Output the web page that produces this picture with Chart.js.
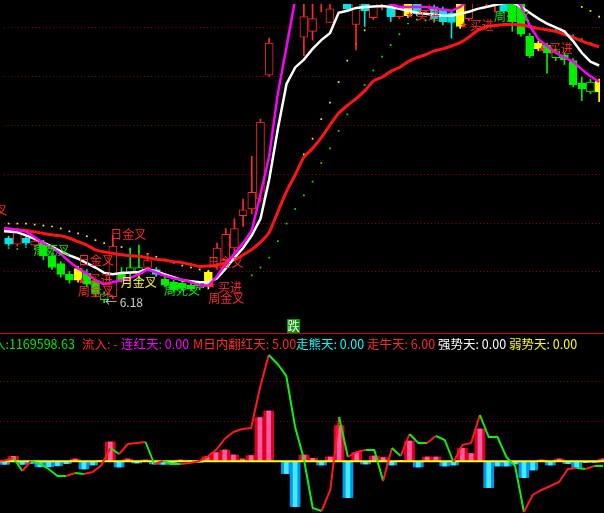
<!DOCTYPE html>
<html>
<head>
<meta charset="utf-8">
<script src="https://cdn.jsdelivr.net/npm/chart.js@4.4.0/dist/chart.umd.min.js"></script>
<style>
  html, body { margin: 0; padding: 0; background: #000; }
  #wrap { position: relative; width: 604px; height: 513px; overflow: hidden; background: #000; font-family: "Noto Sans CJK SC", sans-serif; }
  #priceCanvas { position: absolute; left: 0; top: 0; }
  #flowCanvas { position: absolute; left: 0; top: 335px; }
  #sep { position: absolute; left: 0; top: 333px; width: 604px; height: 1px; background: #d00000; }
  #fall { position: absolute; left: 287px; top: 319px; width: 13px; height: 14px; background: #009a00; color: #fff; font-size: 12px; line-height: 14px; text-align: center; }
  .hdr { position: absolute; top: 336px; font-size: 12.5px; line-height: 16px; white-space: nowrap; }
</style>
</head>
<body>
<div id="wrap">
  <canvas id="priceCanvas" width="604" height="333"></canvas>
  <div id="sep"></div>
  <canvas id="flowCanvas" width="604" height="178"></canvas>
  <div id="fall">跌</div>
  <span class="hdr" style="left:-7px;color:#00e800">入:1169598.63</span>
  <span class="hdr" style="left:82px;color:#ff2828">流入: -</span>
  <span class="hdr" style="left:121px;color:#ff00ff">连红天: 0.00</span>
  <span class="hdr" style="left:193px;color:#ff2828">M日内翻红天: 5.00</span>
  <span class="hdr" style="left:296px;color:#00ffff">走熊天: 0.00</span>
  <span class="hdr" style="left:367px;color:#ff2828">走牛天: 6.00</span>
  <span class="hdr" style="left:438px;color:#ffffff">强势天: 0.00</span>
  <span class="hdr" style="left:509px;color:#ffff00">弱势天: 0.00</span>
</div>
<script>
// candle kind: r = up (hollow red), g = down (green), gh = hollow green, c = cyan, y = yellow
const candleType = ['c','r','c','r','g','g','g','g','y','g','g','gh','r','g','gh','gh','r','c','g','g','g','g','gh','y','r','r','r','r','r','r','r','r','r','r','r','r','r','r','r','c','r','c','r','r','c','r','y','c','r','c','c','c','y','r','r','r','r','c','g','g','g','y','g','gh','g','g','g','gh','y'];
const openPrice = [7.50,7.38,7.50,7.36,7.40,7.14,6.98,6.76,6.64,6.78,6.62,6.36,6.30,6.78,6.90,6.90,6.90,6.86,6.66,6.60,6.58,6.54,6.54,6.52,6.90,7.06,7.30,7.96,8.10,8.30,10.84,12.70,12.60,12.40,11.62,11.74,12.40,11.92,12.40,12.40,11.88,12.36,12.02,12.34,12.22,12.04,12.06,12.34,12.16,12.24,12.20,12.12,11.84,12.00,12.34,12.36,12.36,12.36,12.30,12.40,11.64,11.38,11.46,11.34,11.26,11.14,10.68,10.70,10.50];
const closePrice = [7.38,7.66,7.40,7.44,7.14,6.90,6.76,6.64,6.88,6.56,6.36,6.24,7.34,6.64,6.78,6.78,7.04,6.76,6.54,6.44,6.48,6.46,6.48,6.80,7.30,7.58,7.70,8.08,8.44,9.88,11.50,13.50,13.30,13.10,12.04,12.00,12.70,12.20,12.70,12.20,12.40,12.16,12.40,12.50,12.04,12.36,12.34,12.10,12.36,12.00,11.94,11.92,12.34,12.34,12.50,12.50,12.50,12.16,11.94,11.68,11.24,11.50,11.30,11.20,11.16,10.64,10.56,10.50,10.72];
const highPrice = [7.54,7.70,7.54,7.50,7.46,7.20,7.02,6.82,6.92,6.86,6.66,6.40,7.56,6.90,7.30,7.36,7.18,6.90,6.74,6.64,6.62,6.58,6.58,6.84,7.40,7.70,7.90,8.30,9.18,9.94,11.60,13.70,13.50,13.20,12.40,12.40,12.80,12.40,12.80,12.46,12.46,12.40,12.46,12.54,12.30,12.40,12.38,12.38,12.40,12.28,12.24,12.16,12.38,12.38,12.54,12.54,12.54,12.40,12.34,12.44,11.70,11.54,11.50,11.38,11.30,11.18,10.80,10.76,10.76];
const lowPrice = [7.34,7.34,7.36,7.32,7.06,6.86,6.70,6.58,6.60,6.50,6.30,6.18,6.26,6.60,6.64,6.64,6.84,6.72,6.50,6.40,6.42,6.42,6.44,6.46,6.86,7.00,7.18,7.74,8.00,8.24,10.82,12.50,12.46,12.36,11.24,11.56,12.14,11.92,12.34,12.14,11.36,11.84,11.98,12.18,11.94,12.00,12.02,12.06,12.12,11.96,11.90,11.60,11.80,11.96,12.30,12.26,12.14,12.12,11.74,11.64,11.20,11.34,10.88,11.14,11.06,10.60,10.32,10.46,10.30];

// averages start one bar earlier (index -1), so the lines reach the left edge
const maWhite = [7.65,7.64,7.62,7.56,7.49,7.41,7.33,7.23,7.15,7.08,6.99,6.90,6.79,6.76,6.79,6.80,6.81,6.87,6.82,6.76,6.70,6.64,6.62,6.60,6.60,6.68,6.88,7.10,7.30,7.56,7.90,8.70,9.74,10.66,11.00,11.16,11.38,11.56,11.70,12.12,12.16,12.22,12.24,12.25,12.26,12.24,12.20,12.16,12.12,12.10,12.08,12.06,12.06,12.10,12.14,12.20,12.24,12.28,12.32,12.34,12.24,12.12,12.00,11.90,11.82,11.74,11.54,11.30,11.12,11.04];
const maMagenta = [7.71,7.70,7.67,7.64,7.52,7.40,7.30,7.18,7.02,6.88,6.78,6.64,6.56,6.60,6.64,6.69,6.76,6.86,6.80,6.73,6.68,6.65,6.60,6.53,6.53,6.72,6.98,7.18,7.40,7.66,8.40,9.18,10.46,11.42,12.40,12.70,13.10,13.30,13.40,13.30,13.10,12.90,12.70,12.50,12.36,12.30,12.24,12.24,12.24,12.24,12.22,12.18,12.16,12.24,12.40,12.60,12.70,12.70,12.60,12.46,12.26,11.86,11.58,11.44,11.30,11.20,11.12,10.96,10.82,10.70];
const maRed = [7.67,7.67,7.67,7.66,7.63,7.60,7.57,7.55,7.50,7.43,7.36,7.26,7.22,7.19,7.16,7.14,7.13,7.10,7.07,7.05,7.02,7.00,6.96,6.92,6.93,6.95,7.00,7.06,7.16,7.27,7.42,7.62,8.04,8.46,8.80,9.16,9.34,9.56,9.82,10.06,10.22,10.36,10.52,10.72,10.80,10.92,11.00,11.12,11.20,11.26,11.34,11.38,11.44,11.51,11.62,11.76,11.84,11.86,11.88,11.88,11.87,11.84,11.80,11.77,11.74,11.68,11.62,11.54,11.48,11.42];

const n = null;
const dotYellow = [7.80,7.80,7.80,7.78,7.76,7.74,7.70,7.64,7.60,7.54,7.46,7.40,7.36,7.32,7.26,7.22,7.18,7.12,7.06,7.00,6.94,6.90,6.86,6.82,n,n,n,n,n,n,n,n,n,n,9.22,9.54,9.94,10.28,10.70,11.14,11.48,11.76,12.04,n,n,n,n,n,n,n,n,n,n,n,n,n,n,n,n,n,n,n,n,n,n,n,12.24,12.16,12.04];
const dotGreen = [7.30,7.28,7.32,7.28,n,n,n,n,n,n,n,n,n,n,n,n,n,n,n,n,n,n,n,n,n,n,n,n,6.74,6.90,7.10,7.44,7.80,8.10,8.38,8.66,9.04,9.34,9.70,10.04,10.34,10.64,10.94,11.22,11.46,11.68,11.90,11.98,11.96,11.94,11.88,11.92,n,n,n,n,n,n,n,n,n,n,11.90,11.78,n,11.66,11.58,11.50,n];

const gridPrices = [6.81, 7.81, 8.81, 9.81, 10.81, 11.81];

// signal labels: text, colour, candle index of the left edge, price at the middle
const signalText  = ['日金叉','周死叉','日金叉','买进','周金叉','日金叉','← 6.18','月金叉','周死叉','日金叉','买进','周金叉','买进','买进','周死叉','买进'];
const signalColor = ['#ff2828','#00f000','#ff2828','#ff2828','#ff2828','#ff2828','#d0d0d0','#ffff00','#00f000','#ff2828','#ff2828','#ff2828','#ff2828','#ff2828','#00f000','#ff2828'];
const signalIdx   = [-4.3, 2.9, 8.0, 9.2, 8.0, 11.7, 11.1, 12.9, 17.9, 22.9, 24.1, 23.0, 46.9, 53.1, 55.9, 62.2];
const signalPrice = [8.06, 7.26, 7.04, 6.66, 6.40, 7.58, 6.18, 6.60, 6.42, 7.00, 6.50, 6.26, 12.06, 11.86, 12.04, 11.38];
const starIdx   = [8.4, 23.4, 46.2, 52.4, 61.4];
const starPrice = [6.62, 6.52, 12.06, 11.86, 11.36];

// money flow panel
const flowBars = [-3,5,-3,-2,-5.5,-5.5,-4.5,-2.3,2.3,-7.7,-3.7,1,19.3,-5.7,2.3,-1.7,1.3,-2.7,-3,-3,1.3,0.8,-1,4.7,8.7,11.3,6.3,2.3,5.7,43.7,50.3,0,-12.3,-45.3,6.3,3,-3.7,4.3,35.7,-36.3,9,-2.7,5.3,3.7,-3.7,1,20.3,-5.7,4.3,4.3,-4.7,-3.7,13,7.7,32.3,-26.3,-4.7,-4.7,-2.7,-16.3,-8.7,1.3,-3.7,2.3,-2.3,-6.3,-1.3,-1,2.3];
// flow line also starts at index -1
const flowLine = [0.3,0.8,3.3,-9.7,0.3,-2.7,-7.7,-14.7,-14.7,-11.7,-12.7,-10.7,-3.7,13.3,7.3,17.3,18.3,19.3,-2.7,0.3,-2.7,-2.7,-1.7,-0.2,4.3,11.3,22.3,29.3,32.3,33.3,73.3,106.3,97.3,85.3,34.3,2.3,-46.7,-49.7,-28.7,44.3,4.3,9.3,11.3,11.3,-19.7,13.3,5.3,27.3,18.3,18.3,25.3,21.3,-0.7,16.3,18.3,46.3,24.3,24.3,4.3,-4.7,-50.7,-33.7,-28.7,-24.7,-20.7,-7.7,-6.7,-7.7,-4.7,-4.7];
const flowGrid = [40, 80];

const xMin = -0.534, xMax = 68.1;
const candleColors = { r: '#ff2828', g: '#00f000', gh: '#00f000', c: '#00e4e4', y: '#ffff00' };
const gridRed = '#a00000';

function toPoints(values, start = 0) {
  return values.map((v, i) => ({ x: i + start, y: v }));
}

const signalPlugin = {
  id: 'signals',
  afterDatasetsDraw(chart) {
    const { ctx, scales: { x, y } } = chart;
    ctx.save();
    ctx.textBaseline = 'middle';
    ctx.font = '12px "Noto Sans CJK SC"';
    signalText.forEach((t, k) => {
      ctx.fillStyle = signalColor[k];
      ctx.fillText(t, x.getPixelForValue(signalIdx[k]), y.getPixelForValue(signalPrice[k]));
    });
    ctx.font = '9px "DejaVu Sans"';
    ctx.textAlign = 'center';
    ctx.fillStyle = '#ff2828';
    starIdx.forEach((s, k) => {
      ctx.fillText('★', x.getPixelForValue(s), y.getPixelForValue(starPrice[k]));
    });
    ctx.restore();
  }
};

const hiddenX = { type: 'linear', min: xMin, max: xMax, offset: false, display: false };

new Chart(document.getElementById('priceCanvas'), {
  type: 'bar',
  data: {
    datasets: [
      {
        type: 'line', data: toPoints(maMagenta, -1), borderColor: '#ff00ff', borderWidth: 2.5,
        pointRadius: 0, tension: 0, order: 0
      },
      {
        type: 'line', data: toPoints(maWhite, -1), borderColor: '#ffffff', borderWidth: 2.5,
        pointRadius: 0, tension: 0, order: 1
      },
      {
        type: 'line', data: toPoints(maRed, -1), borderColor: '#ff1414', borderWidth: 3,
        pointRadius: 0, tension: 0.2, order: 2
      },
      {
        data: candleType.map((t, i) => ({ x: i, y: [openPrice[i], closePrice[i]] })),
        backgroundColor: candleType.map(t => (t === 'r' || t === 'gh') ? '#000000' : candleColors[t]),
        borderColor: candleType.map(t => candleColors[t]),
        borderWidth: 1, borderSkipped: false, barThickness: 8, grouped: false, order: 3
      },
      {
        data: candleType.map((t, i) => ({ x: i, y: [lowPrice[i], highPrice[i]] })),
        backgroundColor: candleType.map(t => candleColors[t]),
        borderWidth: 0, barThickness: 1, grouped: false, order: 4
      },
      {
        type: 'line', data: toPoints(dotYellow), showLine: false, pointStyle: 'rect',
        pointRadius: 1.2, pointBackgroundColor: '#ffff00', pointBorderWidth: 0, order: 5
      },
      {
        type: 'line', data: toPoints(dotGreen), showLine: false, pointStyle: 'rect',
        pointRadius: 1.2, pointBackgroundColor: '#00f000', pointBorderWidth: 0, order: 6
      }
    ]
  },
  options: {
    responsive: false,
    animation: false,
    layout: { padding: 0 },
    plugins: { legend: { display: false }, tooltip: { enabled: false } },
    scales: {
      x: hiddenX,
      y: {
        min: 5.64, max: 12.30,
        afterBuildTicks: (scale) => { scale.ticks = gridPrices.map(v => ({ value: v })); },
        afterFit: (scale) => { scale.width = 0; },
        ticks: { display: false },
        grid: { color: gridRed, drawTicks: false, lineWidth: 1 },
        border: { display: false, dash: [1, 2.5] }
      }
    }
  },
  plugins: [signalPlugin]
});

new Chart(document.getElementById('flowCanvas'), {
  type: 'bar',
  data: {
    datasets: [
      {
        type: 'line', data: toPoints(flowLine, -1), borderWidth: 2, pointRadius: 0, tension: 0,
        borderColor: '#ff1a1a',
        segment: { borderColor: (c) => c.p1.parsed.y > c.p0.parsed.y ? '#ff1a1a' : '#10ee10' },
        order: 0
      },
      {
        type: 'line', data: [{ x: xMin, y: 0 }, { x: xMax, y: 0 }], borderColor: '#ffff00',
        borderWidth: 2, pointRadius: 0, order: 1
      },
      {
        data: toPoints(flowBars),
        backgroundColor: flowBars.map(v => v >= 0 ? '#ff5aa6' : '#40ecff'),
        barThickness: 4, grouped: false, order: 2
      },
      {
        data: toPoints(flowBars),
        backgroundColor: flowBars.map(v => v >= 0 ? '#e0001c' : '#0096f0'),
        barThickness: 10, grouped: false, order: 3
      }
    ]
  },
  options: {
    responsive: false,
    animation: false,
    layout: { padding: 0 },
    plugins: { legend: { display: false }, tooltip: { enabled: false } },
    scales: {
      x: hiddenX,
      y: {
        min: -51.7, max: 126.3,
        afterBuildTicks: (scale) => { scale.ticks = flowGrid.map(v => ({ value: v })); },
        afterFit: (scale) => { scale.width = 0; },
        ticks: { display: false },
        grid: { color: gridRed, drawTicks: false, lineWidth: 1 },
        border: { display: false, dash: [1, 2.5] }
      }
    }
  }
});
</script>
</body>
</html>
